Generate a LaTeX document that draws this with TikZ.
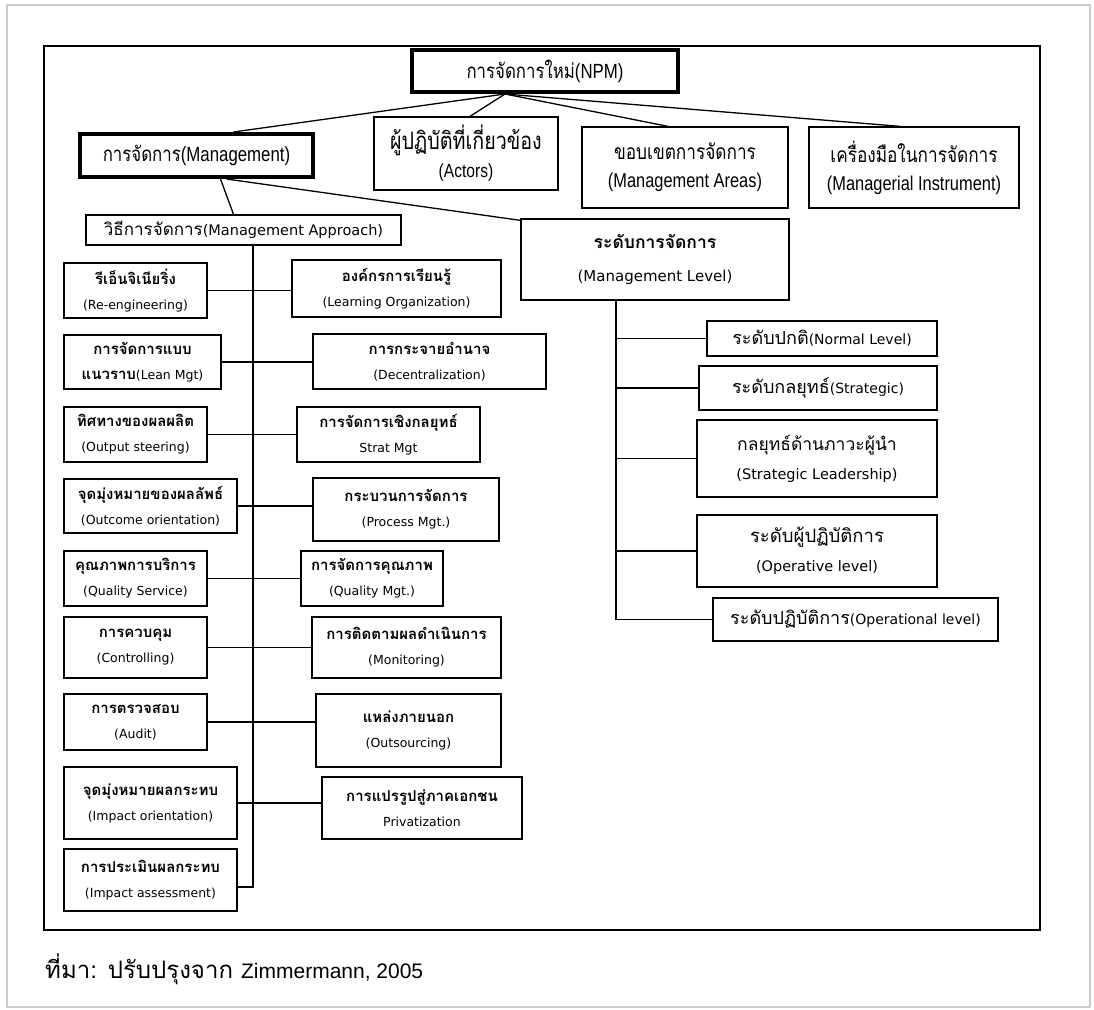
\documentclass[tikz,border=0pt]{standalone}
\usepackage{fontspec}
\setmainfont{Loma}[Script=Thai]
\newfontfamily\thc[Script=Thai,FakeStretch=0.82]{Loma}
\newfontfamily\enc[FakeStretch=0.82]{Liberation Sans}
\newfontfamily\dv{DejaVu Sans}
\newfontfamily\lib{Liberation Sans}
\usetikzlibrary{calc}
\newcommand\ts[2]{{\fontsize{#1}{#1}\selectfont #2}}
\newcommand\es[2]{{\dv\fontsize{#1}{#1}\selectfont #2}}
\newcommand\tc[2]{{\thc\fontsize{#1}{#1}\selectfont #2}}
\newcommand\ec[2]{{\enc\fontsize{#1}{#1}\selectfont #2}}
\newcommand\lowb[2]{\ts{15}{\bfseries #1}\\\es{12.5}{#2}}
\begin{document}
\begin{tikzpicture}[x=1pt,y=-1pt,
  box/.style={draw=black, line width=1.3pt, rectangle, align=center, inner sep=0pt},
  heavy/.style={box, line width=4pt},
  sz/.style 2 args={minimum width=#1pt, minimum height=#2pt},
  conn/.style={line width=1.3pt},
  lowf/.style={font=\fontsize{12}{25}\selectfont},
  topf/.style={font=\fontsize{16}{28}\selectfont},
  lvlf/.style={font=\fontsize{14}{29}\selectfont},
]
\useasboundingbox (0,0) rectangle (1094,1009);
\draw[gray!40, line width=2pt] (7,5) rectangle (1090,1007);
\draw[line width=1.8pt] (44,46) rectangle (1040,930);

% top level
\node[heavy, sz={266}{42}, topf] (npm) at (545,71) {\tc{20.5}{การจัดการใหม่}\ec{20.5}{(NPM)}};
\node[heavy, sz={233}{43}, topf] (mgmt) at (196.5,155.5) {\tc{20.5}{การจัดการ}\ec{20.5}{(Management)}};
\node[box, sz={184}{73}, topf] (actors) at (466,153.5) {\tc{24}{ผู้ปฏิบัติที่เกี่ยวข้อง}\\\ec{19}{(Actors)}};
\node[box, sz={206}{81}, topf] (areas) at (685,167.5) {\tc{21}{ขอบเขตการจัดการ}\\\ec{20}{(Management Areas)}};
\node[box, sz={210}{81}, topf] (instr) at (914,167.5) {\tc{21}{เครื่องมือในการจัดการ}\\\ec{20}{(Managerial Instrument)}};

\node[box, sz={315}{30}, font=\fontsize{14}{16}\selectfont] (appr) at (243.5,230) {\ts{17}{วิธีการจัดการ}\es{14.5}{(Management Approach)}};
\node[box, sz={268}{81}, font=\fontsize{14}{33}\selectfont] (level) at (655,259.5) {\ts{17.5}{\bfseries ระดับการจัดการ}\\\es{15}{(Management Level)}};

\draw[conn] ($(npm.south)+(-40,0)$) -- ($(mgmt.north)+(37,0)$);
\draw[conn] ($(npm.south)+(-40,0)$) -- ($(actors.north)+(4,0)$);
\draw[conn] ($(npm.south)+(-40,0)$) -- ($(areas.north)+(-17,0)$);
\draw[conn] ($(npm.south)+(-40,0)$) -- ($(instr.north)+(-14,0)$);
\draw[conn] ($(mgmt.south)+(24,0)$) -- ($(appr.north)+(-10,0)$);
\draw[conn] ($(mgmt.south)+(30,0)$) -- ($(level.north west)+(0,2)$);

% left column
\node[box, sz={143}{55}, lowf] (reeng) at (135.5,290.5) {\lowb{รีเอ็นจิเนียริ่ง}{(Re-engineering)}};
\node[box, sz={157}{54}, lowf] (lean) at (142.5,362) {\ts{15}{\bfseries การจัดการแบบ}\\\ts{15}{\bfseries แนวราบ}\es{12.5}{(Lean Mgt)}};
\node[box, sz={143}{55}, lowf] (outp) at (135.5,434.5) {\lowb{ทิศทางของผลผลิต}{(Output steering)}};
\node[box, sz={173}{54}, lowf] (outc) at (150.5,506) {\lowb{จุดมุ่งหมายของผลลัพธ์}{(Outcome orientation)}};
\node[box, sz={143}{55}, lowf] (qserv) at (135.5,578.5) {\lowb{คุณภาพการบริการ}{(Quality Service)}};
\node[box, sz={143}{61}, lowf] (ctrl) at (135.5,647.5) {\lowb{การควบคุม}{(Controlling)}};
\node[box, sz={143}{56}, lowf] (audit) at (135.5,722) {\lowb{การตรวจสอบ}{(Audit)}};
\node[box, sz={173}{72}, lowf] (impor) at (150.5,803) {\lowb{จุดมุ่งหมายผลกระทบ}{(Impact orientation)}};
\node[box, sz={173}{62}, lowf] (impas) at (150.5,880) {\lowb{การประเมินผลกระทบ}{(Impact assessment)}};

% middle column
\node[box, sz={209}{57}, lowf] (learn) at (396.5,288.5) {\lowb{องค์กรการเรียนรู้}{(Learning Organization)}};
\node[box, sz={233}{55}, lowf] (decen) at (429.5,361.5) {\lowb{การกระจายอำนาจ}{(Decentralization)}};
\node[box, sz={183}{55}, lowf] (strat) at (388.5,434.5) {\lowb{การจัดการเชิงกลยุทธ์}{Strat Mgt}};
\node[box, sz={186}{63}, lowf] (proc) at (406,509.5) {\lowb{กระบวนการจัดการ}{(Process Mgt.)}};
\node[box, sz={142}{55}, lowf] (qmgt) at (372,578.5) {\lowb{การจัดการคุณภาพ}{(Quality Mgt.)}};
\node[box, sz={189}{61}, lowf] (monit) at (406.5,647.5) {\lowb{การติดตามผลดำเนินการ}{(Monitoring)}};
\node[box, sz={185}{73}, lowf] (outs) at (408.5,730.5) {\lowb{แหล่งภายนอก}{(Outsourcing)}};
\node[box, sz={200}{62}, lowf] (priv) at (422,808) {\lowb{การแปรรูปสู่ภาคเอกชน}{Privatization}};

\coordinate (apb) at (253,887);
\draw[conn] (appr.south -| apb) -- (apb) -- (apb -| impas.east);
\draw[conn] (reeng.east) -- (reeng.east -| learn.west);
\draw[conn] (lean.east) -- (lean.east -| decen.west);
\draw[conn] (outp.east) -- (outp.east -| strat.west);
\draw[conn] (outc.east) -- (outc.east -| proc.west);
\draw[conn] (qserv.east) -- (qserv.east -| qmgt.west);
\draw[conn] (ctrl.east) -- (ctrl.east -| monit.west);
\draw[conn] (audit.east) -- (audit.east -| outs.west);
\draw[conn] (impor.east) -- (impor.east -| priv.west);

% right levels
\node[box, sz={230}{35}, lvlf] (normal) at (822,338.5) {\ts{18}{ระดับปกติ}\es{14}{(Normal Level)}};
\node[box, sz={238}{44}, lvlf] (strg) at (818,388) {\ts{18}{ระดับกลยุทธ์}\es{14}{(Strategic)}};
\node[box, sz={240}{77}, lvlf] (lead) at (817,458.5) {\ts{17.5}{กลยุทธ์ด้านภาวะผู้นำ}\\\es{14.5}{(Strategic Leadership)}};
\node[box, sz={240}{72}, lvlf] (oper) at (817,551) {\ts{18.5}{ระดับผู้ปฏิบัติการ}\\\es{14.5}{(Operative level)}};
\node[box, sz={285}{43}, lvlf] (opl) at (855.5,619.5) {\ts{18}{ระดับปฏิบัติการ}\es{14}{(Operational level)}};

\coordinate (lv) at (616,300);
\draw[conn] (lv) -- (lv |- opl.west) -- (opl.west);
\draw[conn] (lv |- normal.west) -- (normal.west);
\draw[conn] (lv |- strg.west) -- (strg.west);
\draw[conn] (lv |- lead.west) -- (lead.west);
\draw[conn] (lv |- oper.west) -- (oper.west);

\node[anchor=base west, inner sep=0pt] (src) at (45,978) {\ts{24}{ที่มา: ปรับปรุงจาก }{\lib\fontsize{21}{24}\selectfont Zimmermann, 2005}};
\end{tikzpicture}
\end{document}
